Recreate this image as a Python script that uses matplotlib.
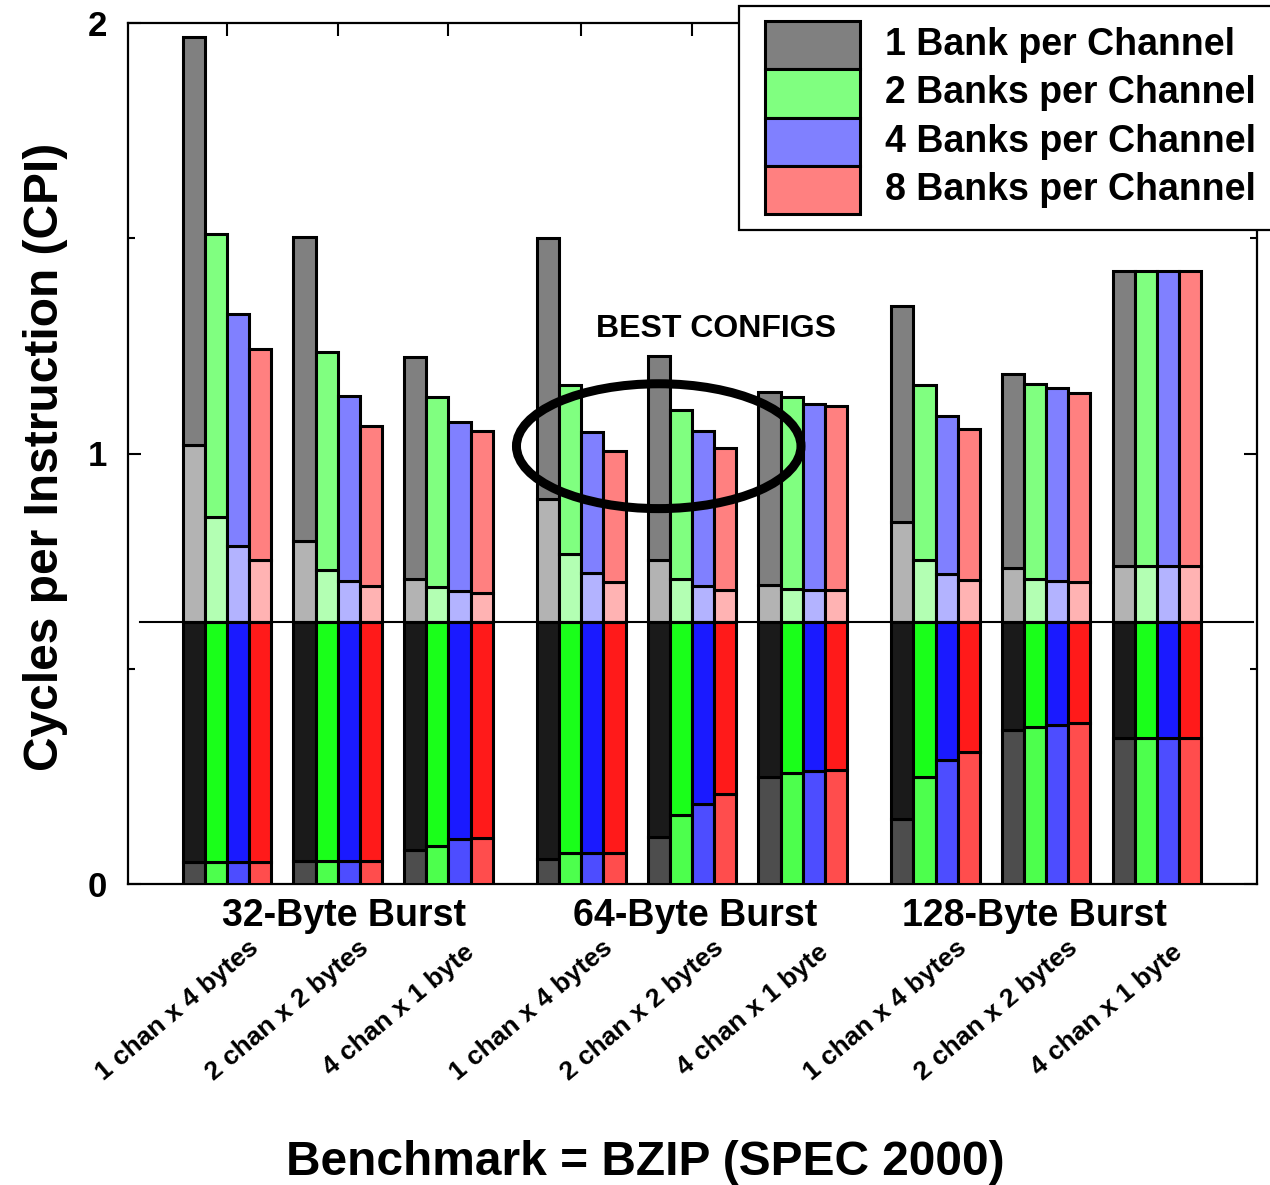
import matplotlib
matplotlib.use("Agg")
import matplotlib.pyplot as plt
import matplotlib.transforms as mtransforms
from matplotlib.patches import Rectangle, Ellipse
import numpy as np

plt.rcParams['font.family'] = ['Liberation Sans', 'DejaVu Sans']
plt.rcParams['font.weight'] = 'bold'

# ---- data -------------------------------------------------------------
bursts = ["32-Byte Burst", "64-Byte Burst", "128-Byte Burst"]
configs = ["1 chan x 4 bytes", "2 chan x 2 bytes", "4 chan x 1 byte"] * 3
series = ["1 Bank per Channel", "2 Banks per Channel",
          "4 Banks per Channel", "8 Banks per Channel"]

# total CPI of each bar
total_1 = [1.967, 1.503, 1.225, 1.500, 1.226, 1.144, 1.342, 1.184, 1.425]
total_2 = [1.510, 1.235, 1.131, 1.158, 1.101, 1.131, 1.158, 1.161, 1.425]
total_4 = [1.324, 1.133, 1.073, 1.049, 1.053, 1.115, 1.088, 1.151, 1.425]
total_8 = [1.243, 1.065, 1.053, 1.005, 1.012, 1.111, 1.057, 1.140, 1.425]

# top of the light (third) component
upper_1 = [1.019, 0.796, 0.709, 0.895, 0.752, 0.694, 0.840, 0.733, 0.738]
upper_2 = [0.852, 0.729, 0.690, 0.767, 0.709, 0.686, 0.752, 0.708, 0.738]
upper_4 = [0.784, 0.703, 0.680, 0.722, 0.692, 0.684, 0.721, 0.704, 0.738]
upper_8 = [0.753, 0.692, 0.676, 0.701, 0.684, 0.682, 0.705, 0.701, 0.738]

# processor-only CPI (common split level for every bar)
core_cpi = 0.609

# top of the bottom component
lower_1 = [0.052, 0.053, 0.080, 0.059, 0.110, 0.249, 0.151, 0.357, 0.339]
lower_2 = [0.052, 0.053, 0.089, 0.073, 0.160, 0.257, 0.249, 0.365, 0.339]
lower_4 = [0.052, 0.053, 0.104, 0.073, 0.185, 0.263, 0.289, 0.369, 0.339]
lower_8 = [0.052, 0.053, 0.108, 0.073, 0.209, 0.265, 0.307, 0.373, 0.339]

totals = [total_1, total_2, total_4, total_8]
uppers = [upper_1, upper_2, upper_4, upper_8]
lowers = [lower_1, lower_2, lower_4, lower_8]

# shades per series: bottom, core, light, top
shades = [
    ["#4d4d4d", "#1a1a1a", "#b3b3b3", "#808080"],
    ["#4dff4d", "#1aff1a", "#b3ffb3", "#80ff80"],
    ["#4d4dff", "#1a1aff", "#b3b3ff", "#8080ff"],
    ["#ff4d4d", "#ff1a1a", "#ffb3b3", "#ff8080"],
]

# ---- figure -----------------------------------------------------------
W, H = 1270, 1185
fig = plt.figure(figsize=(W / 100, H / 100), dpi=100)
ax = fig.add_axes([128 / W, 1 - 884 / H, (1257 - 128) / W, (884 - 23) / H])

centers = np.array([i + 0.2 * (i // 3) for i in range(len(configs))])
bar_w = 0.2
offsets = [-0.3, -0.1, 0.1, 0.3]

for s in range(4):
    tot = np.array(totals[s])
    up = np.array(uppers[s])
    lo = np.array(lowers[s])
    core = np.full_like(tot, core_cpi)
    edges = [np.zeros_like(tot), lo, core, up, tot]
    for k in range(4):
        ax.bar(centers + offsets[s], edges[k + 1] - edges[k], bottom=edges[k],
               width=bar_w, color=shades[s][k], edgecolor="black",
               linewidth=2.2, zorder=3)

ax.axhline(core_cpi, xmin=0.0106, xmax=0.9965, color="black", lw=1.5, zorder=4)

ax.set_xlim(-0.894, 9.304)
ax.set_ylim(0, 2)

ax.set_yticks([0, 1, 2])
ax.set_yticklabels(["0", "1", "2"], fontsize=25, fontweight="bold")
ax.set_yticks([0.5, 1.5], minor=True)
ax.tick_params(axis="y", which="major", direction="in", length=9.5, width=1.5,
               left=True, right=True, pad=15)
ax.tick_params(axis="y", which="minor", direction="in", length=5, width=1.5,
               left=True, right=True)
ax.set_xticks(centers)
ax.tick_params(axis="x", which="major", direction="in", length=9, width=1.5,
               top=True, bottom=False, labelbottom=False)
for sp in ax.spines.values():
    sp.set_linewidth(1.6)

fig.text(58 / W, 1 - 457 / H, "Cycles per Instruction (CPI)", rotation=90,
         rotation_mode="anchor", ha="center", va="baseline",
         fontsize=34.5, fontweight="bold")
fig.text(645 / W, 1 - 1175 / H, "Benchmark = BZIP (SPEC 2000)",
         ha="center", va="baseline", fontsize=34.5, fontweight="bold")

# group and configuration labels under the axis
blend = mtransforms.blended_transform_factory(ax.transData, fig.transFigure)
group_x = [(344 - 227) / 110.7, (695 - 227) / 110.7, (1034 - 227) / 110.7]
for gx, name in zip(group_x, bursts):
    ax.text(gx, 1 - 926 / H, name, transform=blend, ha="center",
            va="baseline", fontsize=27, fontweight="bold", clip_on=False)
for cx, name in zip(centers, configs):
    ax.text(cx - 0.45, 1 - 1010 / H, name, transform=blend, rotation=40,
            rotation_mode="anchor", ha="center", va="center",
            fontsize=19, fontweight="bold", clip_on=False)

# highlighted region
ax.add_patch(Ellipse((3.9, 1.017), 2.57, 0.29, facecolor="none",
                     edgecolor="black", lw=6.5, zorder=6))
ax.text(4.417, 1.29, "BEST CONFIGS", ha="center", va="center",
        fontsize=23, fontweight="bold", zorder=6)

# legend box
def fx(x):
    return x / W

def fy(y):
    return 1 - y / H

fig.add_artist(Rectangle((fx(739), fy(230)), fx(1300) - fx(739), fy(6) - fy(230),
                         transform=fig.transFigure, facecolor="white",
                         edgecolor="black", lw=1.6, zorder=10))
row_h = (214 - 21) / 4
for i, name in enumerate(series):
    top = 21 + i * row_h
    fig.add_artist(Rectangle((fx(765), fy(top + row_h)), fx(860) - fx(765),
                             fy(top) - fy(top + row_h),
                             transform=fig.transFigure,
                             facecolor=shades[i][3], edgecolor="black",
                             lw=2.2, zorder=11))
    fig.text(fx(885), fy(top + row_h / 2), name, ha="left", va="center",
             fontsize=27, fontweight="bold", zorder=12)

fig.savefig("out.png", dpi=100)
